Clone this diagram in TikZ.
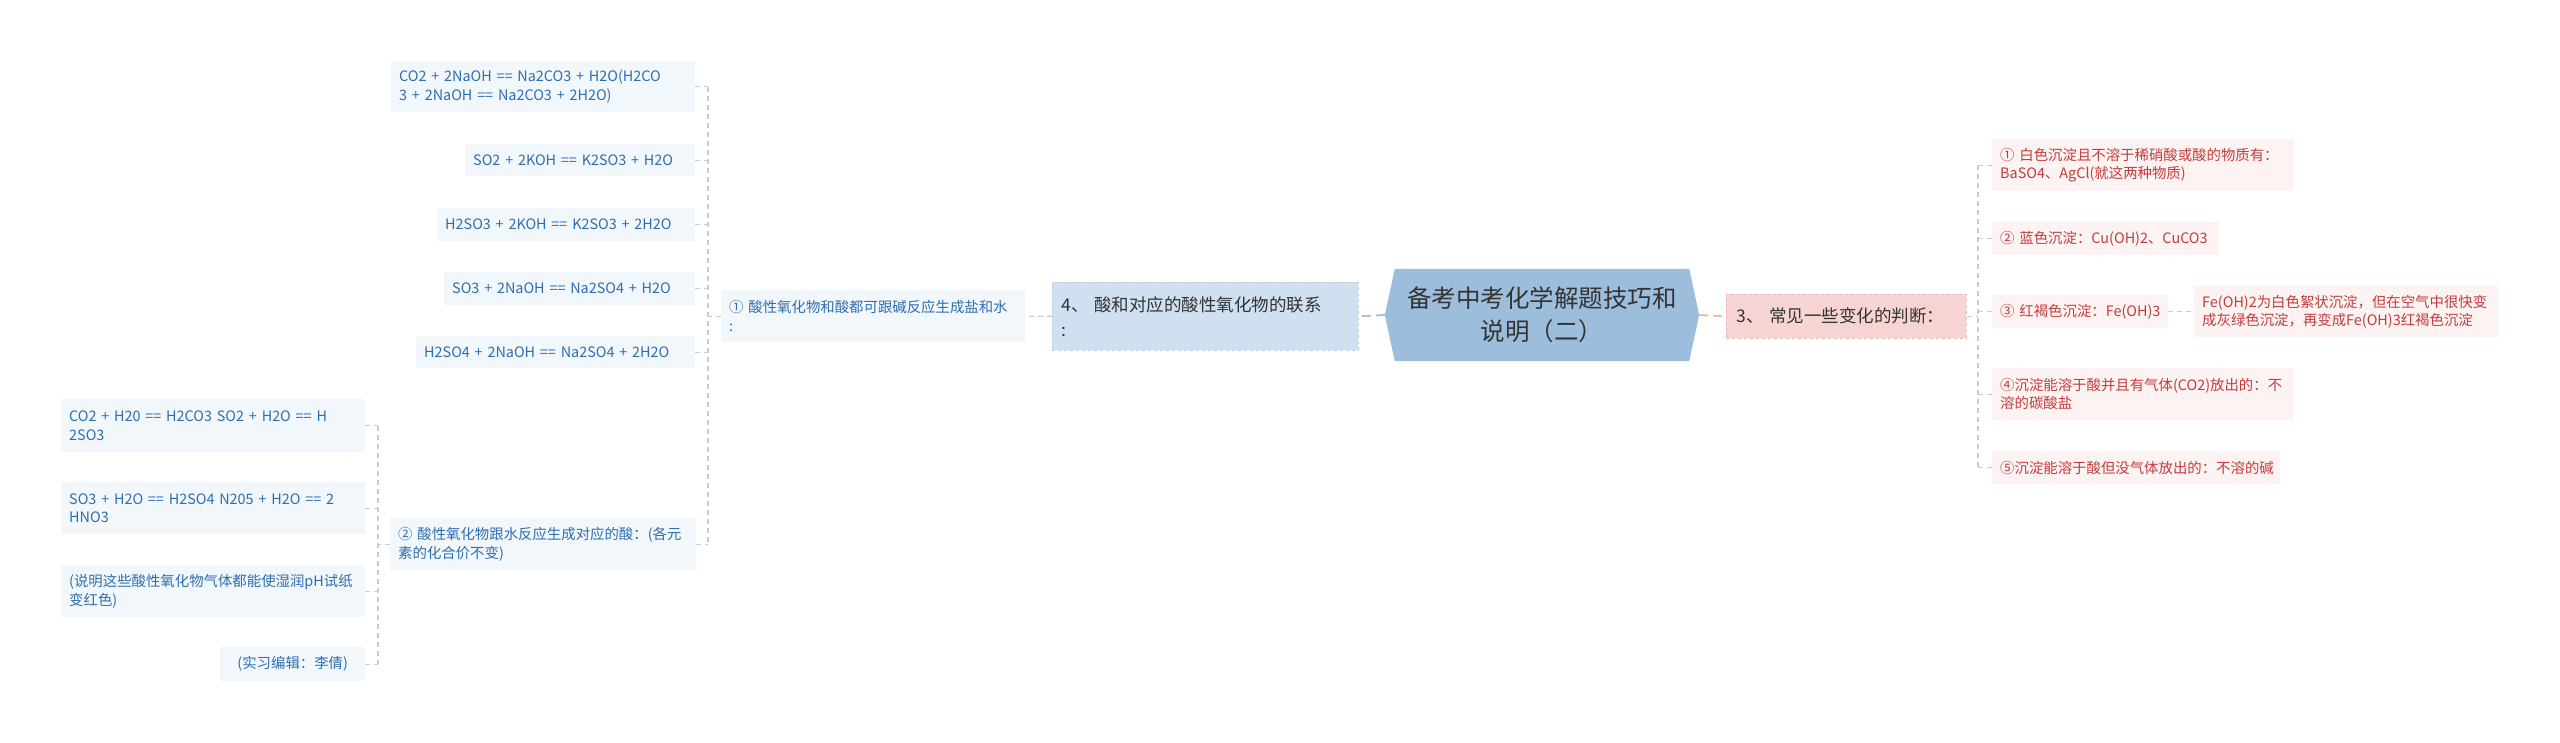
\documentclass[tikz,border=0pt]{standalone}
\usepackage{fontspec}
\setmainfont{Noto Sans CJK SC}
\usetikzlibrary{backgrounds}
\definecolor{blueText}{HTML}{2F6EB0}
\definecolor{redText}{HTML}{C33C3C}
\definecolor{blueLeaf}{HTML}{F2F7FC}
\definecolor{redLeaf}{HTML}{FDF3F3}
\definecolor{blueMid}{HTML}{CFE0F1}
\definecolor{blueMidEdge}{HTML}{B9D0E8}
\definecolor{redMid}{HTML}{F7D4D4}
\definecolor{redMidEdge}{HTML}{EDB9B9}
\definecolor{centerFill}{HTML}{9DBDDD}
\definecolor{darkText}{HTML}{333333}
\definecolor{connGray}{HTML}{CCCCCC}
\definecolor{connBlue}{HTML}{A8C3DF}
\definecolor{connRed}{HTML}{EFB9B9}
\begin{document}
\begin{tikzpicture}[x=1pt,y=-1pt,
  leafbox/.style={anchor=north west, inner xsep=8pt, inner ysep=0pt, align=left,
     font=\fontsize{14.4}{18.5}\selectfont},
  bleaf/.style={leafbox, fill=blueLeaf, text=blueText},
  rleaf/.style={leafbox, fill=redLeaf, text=redText},
  conn/.style={draw=connGray, line width=1.3pt, dash pattern=on 5pt off 4pt},
  connb/.style={draw=connBlue, line width=2pt, dash pattern=on 9pt off 5pt},
  connr/.style={draw=connRed, line width=2pt, dash pattern=on 9pt off 5pt}]
\useasboundingbox (0,0) rectangle (2560,742);

% central node
\node[minimum width=314pt, minimum height=92pt, align=center, text=darkText,
  font=\fontsize{24.5}{33}\selectfont] (cen) at (1542,315) {备考中考化学解题技巧和\\说明（二）};
\begin{scope}[on background layer]
\fill[white] (0,0) rectangle (2560,742);
\fill[centerFill] ([xshift=10pt]cen.north west) -- ([xshift=-10pt]cen.north east) -- (cen.east)
  -- ([xshift=-10pt]cen.south east) -- ([xshift=10pt]cen.south west) -- (cen.west) -- cycle;
\end{scope}

% level 1
\node[anchor=north west, minimum width=306pt, minimum height=68pt, text width=288pt, inner xsep=9pt,
  align=left, fill=blueMid, draw=blueMidEdge, dashed, line width=0.6pt, text=darkText,
  font=\fontsize{17.5}{25}\selectfont] (d4) at (1052,282) {4、 酸和对应的酸性氧化物的联系\\:};
\node[anchor=north west, minimum width=240pt, minimum height=44pt, text width=220pt, inner xsep=10pt,
  align=left, fill=redMid, draw=redMidEdge, dashed, line width=0.6pt, text=darkText,
  font=\fontsize{17.5}{25}\selectfont] (d3) at (1726,294) {3、~常见一些变化的判断：};

% left branch
\node[bleaf, minimum width=304pt, minimum height=52pt, text width=288pt] (n1) at (721,290) {①~酸性氧化物和酸都可跟碱反应生成盐和水\\:};
\node[bleaf, minimum width=304pt, minimum height=51pt, text width=288pt] (a1) at (391,61) {CO2 + 2NaOH == Na2CO3 + H2O(H2CO\\3 + 2NaOH == Na2CO3 + 2H2O)};
\node[bleaf, minimum width=230pt, minimum height=32pt, text width=214pt] (a2) at (465,144) {SO2 + 2KOH == K2SO3 + H2O};
\node[bleaf, minimum width=258pt, minimum height=33pt, text width=242pt] (a3) at (437,208) {H2SO3 + 2KOH == K2SO3 + 2H2O};
\node[bleaf, minimum width=251pt, minimum height=33pt, text width=235pt] (a4) at (444,272) {SO3 + 2NaOH == Na2SO4 + H2O};
\node[bleaf, minimum width=279pt, minimum height=32pt, text width=263pt] (a5) at (416,336) {H2SO4 + 2NaOH == Na2SO4 + 2H2O};
\node[bleaf, minimum width=306pt, minimum height=52pt, text width=290pt] (n2) at (390,518) {②~酸性氧化物跟水反应生成对应的酸：(各元\\素的化合价不变)};
\node[bleaf, minimum width=304pt, minimum height=53pt, text width=288pt] (b1) at (61,399) {CO2 + H20 == H2CO3 SO2 + H2O == H\\2SO3};
\node[bleaf, minimum width=304pt, minimum height=52pt, text width=288pt] (b2) at (61,482) {SO3 + H2O == H2SO4 N205 + H2O == 2\\HNO3};
\node[bleaf, minimum width=304pt, minimum height=52pt, text width=288pt] (b3) at (61,565) {(说明这些酸性氧化物气体都能使湿润pH试纸\\变红色)};
\node[bleaf, minimum width=145pt, minimum height=34pt, text width=129pt, align=center] (b4) at (220,647) {(实习编辑：李倩)};

% right branch
\node[rleaf, minimum width=302pt, minimum height=52pt, text width=286pt] (r1) at (1992,139) {①~白色沉淀且不溶于稀硝酸或酸的物质有：\\BaSO4、AgCl(就这两种物质)};
\node[rleaf, minimum width=227pt, minimum height=33pt, text width=211pt] (r2) at (1992,222) {②~蓝色沉淀：Cu(OH)2、CuCO3};
\node[rleaf, minimum width=176pt, minimum height=33pt, text width=160pt] (r3) at (1992,295) {③~红褐色沉淀：Fe(OH)3};
\node[rleaf, minimum width=304pt, minimum height=51pt, text width=288pt] (r3a) at (2194,286) {Fe(OH)2为白色絮状沉淀，但在空气中很快变\\成灰绿色沉淀，再变成Fe(OH)3红褐色沉淀};
\node[rleaf, minimum width=302pt, minimum height=52pt, text width=286pt] (r4) at (1992,368) {④沉淀能溶于酸并且有气体(CO2)放出的：不\\溶的碳酸盐};
\node[rleaf, minimum width=288pt, minimum height=33pt, text width=272pt] (r5) at (1992,451) {⑤沉淀能溶于酸但没气体放出的：不溶的碱};

% spine coordinates
\coordinate (v1) at (708,316);
\coordinate (v2) at (378,544);
\coordinate (v3) at (1978,316);

% connectors
\draw[connb] (cen.west) -- (d4.east);
\draw[connr] (cen.east) -- (d3.west);
\draw[conn] (d4.west) -- (n1.east);
\draw[conn] (n1.west) -- (n1.west -| v1);
\draw[conn] (a1.east -| v1) -- (n2.east -| v1);
\foreach \n in {a1,a2,a3,a4,a5,n2} \draw[conn] (\n.east) -- (\n.east -| v1);
\draw[conn] (n2.west) -- (n2.west -| v2);
\draw[conn] (b1.east -| v2) -- (b4.east -| v2);
\foreach \n in {b1,b2,b3,b4} \draw[conn] (\n.east) -- (\n.east -| v2);
\draw[conn] (d3.east) -- (d3.east -| v3);
\draw[conn] (r1.west -| v3) -- (r5.west -| v3);
\foreach \n in {r1,r2,r3,r4,r5} \draw[conn] (\n.west) -- (\n.west -| v3);
\draw[conn] (r3.east) -- (r3a.west);
\end{tikzpicture}
\end{document}
